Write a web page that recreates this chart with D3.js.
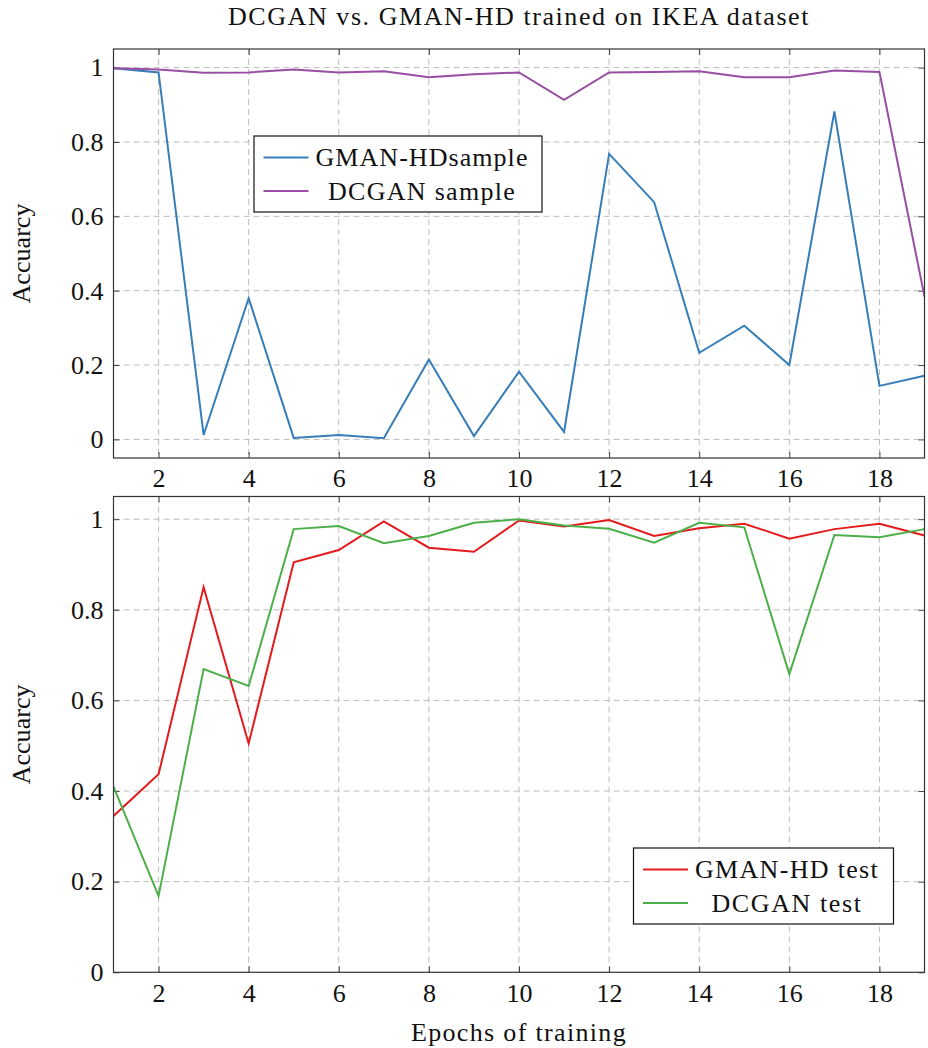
<!DOCTYPE html>
<html>
<head>
<meta charset="utf-8">
<script src="https://cdn.jsdelivr.net/npm/d3@7"></script>
<style>
  html, body { margin: 0; padding: 0; background: #fff; }
  svg text { font-family: "Liberation Serif", "DejaVu Serif", "Noto Serif", serif; fill: #111; }
</style>
</head>
<body>
<svg id="chart" width="928" height="1048"></svg>
<script>
// Epochs of training
const epochs = [1, 2, 3, 4, 5, 6, 7, 8, 9, 10, 11, 12, 13, 14, 15, 16, 17, 18, 19];

// Sample accuracy (upper panel)
const gmanSample  = [0.998, 0.987, 0.012, 0.380, 0.004, 0.012, 0.003, 0.215, 0.009, 0.182,
                     0.020, 0.768, 0.638, 0.233, 0.306, 0.200, 0.882, 0.144, 0.171];
const dcganSample = [0.998, 0.995, 0.986, 0.987, 0.995, 0.987, 0.990, 0.974, 0.982, 0.987,
                     0.913, 0.987, 0.988, 0.990, 0.974, 0.974, 0.992, 0.988, 0.384];

// Test accuracy (lower panel)
const gmanTest  = [0.345, 0.437, 0.850, 0.505, 0.905, 0.932, 0.995, 0.937, 0.928, 0.997,
                   0.984, 0.998, 0.963, 0.980, 0.990, 0.957, 0.978, 0.990, 0.964];
const dcganTest = [0.410, 0.168, 0.669, 0.632, 0.978, 0.985, 0.947, 0.963, 0.992, 1.000,
                   0.986, 0.979, 0.948, 0.992, 0.982, 0.658, 0.965, 0.960, 0.978];

// Axis ticks
const xTicks = [2, 4, 6, 8, 10, 12, 14, 16, 18];
const yTicks = [0, 0.2, 0.4, 0.6, 0.8, 1];

const titleText = "DCGAN vs. GMAN-HD trained on IKEA dataset";
const yLabelText = "Accuarcy";
const xLabelText = "Epochs of training";

const colors = { blue: "#377eb8", purple: "#984ea3", red: "#e41a1c", green: "#4daf4a" };

const svg = d3.select("#chart");
const left = 113.5, right = 924.5;
const fontSize = 26;
const serif = '"Liberation Serif", "DejaVu Serif", "Noto Serif", serif';

// spread a label's glyphs so the whole string spans the given width
function fitWidth(sel, width) {
  const node = sel.node();
  const n = sel.text().length;
  sel.attr("letter-spacing", 0);
  const w = node.getComputedTextLength();
  if (n > 1) sel.attr("letter-spacing", Math.max(-1, (width - w) / n));
  return sel;
}

const x = d3.scaleLinear().domain([1, 19]).range([left, right]);

function panel(cfg) {
  const y = d3.scaleLinear().domain(cfg.yDomain).range([cfg.bottom, cfg.top]);
  const g = svg.append("g");
  const clipId = "clip-" + cfg.id;
  svg.append("clipPath").attr("id", clipId)
    .append("rect").attr("x", left).attr("y", cfg.top)
    .attr("width", right - left).attr("height", cfg.bottom - cfg.top);

  // dashed grid
  const grid = g.append("g").attr("stroke", "#bdbdbd").attr("stroke-width", 1)
    .attr("stroke-dasharray", "6,4");
  grid.selectAll("line.gx").data(xTicks).join("line")
    .attr("x1", d => x(d)).attr("x2", d => x(d))
    .attr("y1", cfg.top).attr("y2", cfg.bottom);
  grid.selectAll("line.gy").data(yTicks.filter(v => v > cfg.yDomain[0])).join("line")
    .attr("class", "gy")
    .attr("x1", left).attr("x2", right)
    .attr("y1", d => y(d)).attr("y2", d => y(d));

  // axes (ticks point inward)
  const axB = g.append("g").attr("transform", `translate(0,${cfg.bottom})`)
    .call(d3.axisBottom(x).tickValues(xTicks).tickSize(-6).tickPadding(11).tickFormat(d3.format("d")));
  const axT = g.append("g").attr("transform", `translate(0,${cfg.top})`)
    .call(d3.axisTop(x).tickValues(xTicks).tickSize(-6).tickFormat(""));
  const axL = g.append("g").attr("transform", `translate(${left},0)`)
    .call(d3.axisLeft(y).tickValues(yTicks).tickSize(-6).tickPadding(10)
      .tickFormat(d => String(+d.toFixed(1))));
  const axR = g.append("g").attr("transform", `translate(${right},0)`)
    .call(d3.axisRight(y).tickValues(yTicks).tickSize(-6).tickFormat(""));
  [axB, axT, axL, axR].forEach(a => {
    a.attr("font-family", serif);
    a.select(".domain").remove();
    a.selectAll(".tick line").attr("stroke", "#444").attr("stroke-width", 1);
    a.selectAll("text").attr("font-size", fontSize).attr("fill", "#111");
  });

  // series
  const line = d3.line().x((d, i) => x(epochs[i])).y(d => y(d));
  const lines = g.append("g").attr("clip-path", `url(#${clipId})`);
  cfg.series.forEach(s => {
    lines.append("path").datum(s.values)
      .attr("fill", "none").attr("stroke", s.color).attr("stroke-width", 2)
      .attr("stroke-linejoin", "miter").attr("d", line);
  });

  // frame
  g.append("rect").attr("x", left).attr("y", cfg.top)
    .attr("width", right - left).attr("height", cfg.bottom - cfg.top)
    .attr("fill", "none").attr("stroke", "#333").attr("stroke-width", 1.2);

  // y label
  const yl = g.append("text")
    .attr("transform", `translate(30,${(cfg.top + cfg.bottom) / 2}) rotate(-90)`)
    .attr("text-anchor", "middle").attr("font-size", fontSize).text(yLabelText);
  fitWidth(yl, 100);

  // legend
  const L = cfg.legend;
  const lg = g.append("g");
  lg.append("rect").attr("x", L.x).attr("y", L.y).attr("width", L.w).attr("height", L.h)
    .attr("fill", "#fff").attr("stroke", "#111").attr("stroke-width", 1.2);
  cfg.series.forEach((s, i) => {
    const ly = L.y + 21.5 + i * 33.5;
    lg.append("line").attr("x1", L.x + 9.5).attr("x2", L.x + 54.5)
      .attr("y1", ly).attr("y2", ly)
      .attr("stroke", s.color).attr("stroke-width", 2);
    const t = lg.append("text").attr("x", L.textCx).attr("y", ly + 8.5)
      .attr("text-anchor", "middle").attr("font-size", fontSize).text(s.name);
    fitWidth(t, s.width);
  });
}

panel({
  id: "sample", top: 49, bottom: 458, yDomain: [-0.05, 1.05],
  series: [
    { name: "GMAN-HDsample", values: gmanSample, color: colors.blue, width: 213 },
    { name: "DCGAN sample", values: dcganSample, color: colors.purple, width: 188 }
  ],
  legend: { x: 254, y: 136, w: 288, h: 76, textCx: 422 }
});

panel({
  id: "test", top: 496.5, bottom: 972.3, yDomain: [0, 1.05],
  series: [
    { name: "GMAN-HD test", values: gmanTest, color: colors.red, width: 184 },
    { name: "DCGAN test", values: dcganTest, color: colors.green, width: 151 }
  ],
  legend: { x: 633.5, y: 848, w: 260, h: 76, textCx: 787 }
});

// title and x label
fitWidth(svg.append("text").attr("x", 519).attr("y", 25).attr("text-anchor", "middle")
  .attr("font-size", fontSize).text(titleText), 582);
fitWidth(svg.append("text").attr("x", 519).attr("y", 1041).attr("text-anchor", "middle")
  .attr("font-size", fontSize).text(xLabelText), 216);
</script>
</body>
</html>
